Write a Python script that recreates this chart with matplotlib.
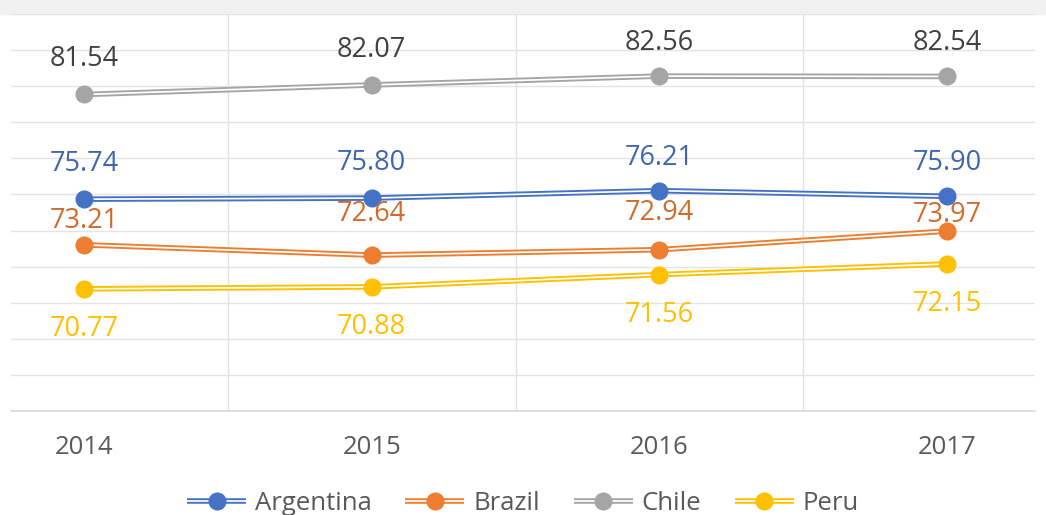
import matplotlib
matplotlib.use("Agg")
import matplotlib.pyplot as plt
import matplotlib.patheffects as pe
from matplotlib.legend_handler import HandlerTuple
from matplotlib.patches import Rectangle

plt.rcParams['font.family'] = ['Open Sans', 'DejaVu Sans']

years = ["2014", "2015", "2016", "2017"]
argentina = [75.74, 75.80, 76.21, 75.90]
brazil = [73.21, 72.64, 72.94, 73.97]
chile = [81.54, 82.07, 82.56, 82.54]
peru = [70.77, 70.88, 71.56, 72.15]

series = [
    ("Argentina", argentina, "#4472C4", "#3F65AB"),
    ("Brazil", brazil, "#ED7D31", "#CF6B2C"),
    ("Chile", chile, "#A5A5A5", "#404040"),
    ("Peru", peru, "#FFC000", "#FFC000"),
]
# label offsets in pixels (positive = above the marker)
label_dy = {
    "Argentina": [35, 35, 33, 33],
    "Brazil": [24, 41, 37, 16],
    "Chile": [35, 35, 33, 33],
    "Peru": [-40, -40, -40, -40],
}

fig = plt.figure(figsize=(10.46, 5.15), dpi=100)
fig.patches.append(Rectangle((0, 0.9728), 1, 0.03, transform=fig.transFigure,
                             color="#f1f1f1", zorder=-10))
ax = fig.add_axes([0.0105, 0.2019, 0.979, 0.7709])
x = list(range(len(years)))

handles = []
for name, vals, col, lcol in series:
    ln, = ax.plot(x, vals, color="white", lw=1.25, solid_capstyle="butt",
                  path_effects=[pe.Stroke(linewidth=4.0, foreground=col), pe.Normal()],
                  zorder=3)
    mk, = ax.plot(x, vals, ls="none", marker="o", ms=12, color=col, zorder=4)
    handles.append((ln, mk))
    for xi, v, dy in zip(x, vals, label_dy[name]):
        ax.annotate(f"{v:.2f}", (xi, v), xytext=(0, dy * 0.72), textcoords="offset points",
                    ha="center", va="center", fontsize=19.5, color=lcol, zorder=5)

ax.set_xlim(-0.254, 3.306)
ax.set_ylim(64, 86)
ax.set_yticks(range(64, 87, 2))
ax.set_yticklabels([])
ax.tick_params(axis="y", length=0)
ax.set_xticks(x)
ax.set_xticklabels(years, fontsize=18.5, color="#595959")
ax.tick_params(axis="x", length=0, pad=17)
ax.set_xticks([0.5, 1.5, 2.5], minor=True)
ax.tick_params(axis="x", which="minor", length=0)
ax.grid(axis="y", color="#e3e3e3", lw=1)
ax.grid(axis="x", which="minor", color="#e3e3e3", lw=1)
for s in ["top", "right", "left"]:
    ax.spines[s].set_visible(False)
ax.spines["bottom"].set_color("#d9d9d9")
ax.spines["bottom"].set_linewidth(1.2)
ax.set_axisbelow(True)

fig.legend(handles, [s[0] for s in series], handler_map={tuple: HandlerTuple(ndivide=1)},
           loc="center", bbox_to_anchor=(0.5, 0.022), ncol=4, frameon=False,
           fontsize=18.5, labelcolor="#595959", handlelength=2.3, handletextpad=0.35,
           columnspacing=1.3)

fig.savefig("out.png", dpi=100, facecolor="white")
